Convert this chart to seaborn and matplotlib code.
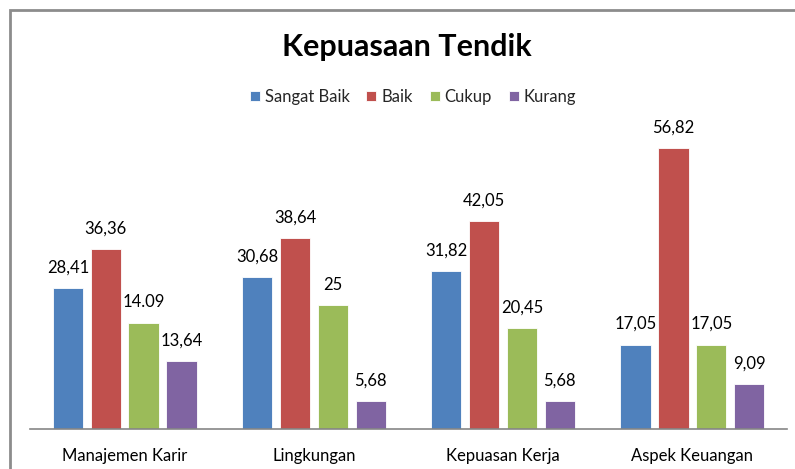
import matplotlib
matplotlib.use("Agg")
import matplotlib.pyplot as plt
import seaborn as sns
import pandas as pd
from matplotlib.patches import Rectangle

categories = ["Manajemen Karir", "Lingkungan", "Kepuasan Kerja", "Aspek Keuangan"]
series = ["Sangat Baik", "Baik", "Cukup", "Kurang"]
sangat_baik = [28.41, 30.68, 31.82, 17.05]
baik = [36.36, 38.64, 42.05, 56.82]
cukup = [21.45, 25, 20.45, 17.05]
kurang = [13.64, 5.68, 5.68, 9.09]
labels_sangat_baik = ["28,41", "30,68", "31,82", "17,05"]
labels_baik = ["36,36", "38,64", "42,05", "56,82"]
labels_cukup = ["14.09", "25", "20,45", "17,05"]
labels_kurang = ["13,64", "5,68", "5,68", "9,09"]

colors = ["#4F81BD", "#C0504D", "#9BBB59", "#8064A2"]

vals = [sangat_baik, baik, cukup, kurang]
labs = [labels_sangat_baik, labels_baik, labels_cukup, labels_kurang]
rows = []
for s, v in zip(series, vals):
    for c, x in zip(categories, v):
        rows.append({"Kategori": c, "Seri": s, "Nilai": x})
df = pd.DataFrame(rows)

sns.set_theme(style="white")
plt.rcParams["font.family"] = ["Lato", "DejaVu Sans"]

fig = plt.figure(figsize=(7.95, 4.69), dpi=100)
ax = fig.add_axes([30/795, 40/469, 757/795, (429-132)/469])

sns.barplot(data=df, x="Kategori", y="Nilai", hue="Seri", order=categories,
            hue_order=series, palette=colors, saturation=1, width=0.8, gap=0.2,
            edgecolor="white", linewidth=0.6, ax=ax, legend=True)

for cont, lab in zip(ax.containers, labs):
    ax.bar_label(cont, labels=lab, padding=9, fontsize=12, color="#000000")

ax.set_ylim(0, 60)
ax.set_xlim(-0.5, 3.5)
ax.set_xlabel("")
ax.set_ylabel("")
ax.set_yticks([])
for side in ["top", "right", "left"]:
    ax.spines[side].set_visible(False)
ax.spines["bottom"].set_color("#868686")
ax.spines["bottom"].set_linewidth(1.2)
ax.tick_params(axis="x", length=0, pad=14, labelsize=12, labelcolor="#000000")

leg = ax.legend(loc="center", bbox_to_anchor=(413/795, 1-97/469),
                bbox_transform=fig.transFigure, ncol=4, frameon=False,
                fontsize=12, handlelength=0.6, handleheight=0.6,
                handletextpad=0.3, columnspacing=1.0)

fig.text(407/795, 1-47/469, "Kepuasaan Tendik", ha="center", va="center",
         fontsize=22, fontweight="bold", color="#000000")

fig.add_artist(Rectangle((10/795, -0.2), 1.2, 1.2 - 10.5/469,
                         transform=fig.transFigure, fill=False,
                         edgecolor="#8C8C8C", linewidth=2))

fig.savefig("out.png", dpi=100)
